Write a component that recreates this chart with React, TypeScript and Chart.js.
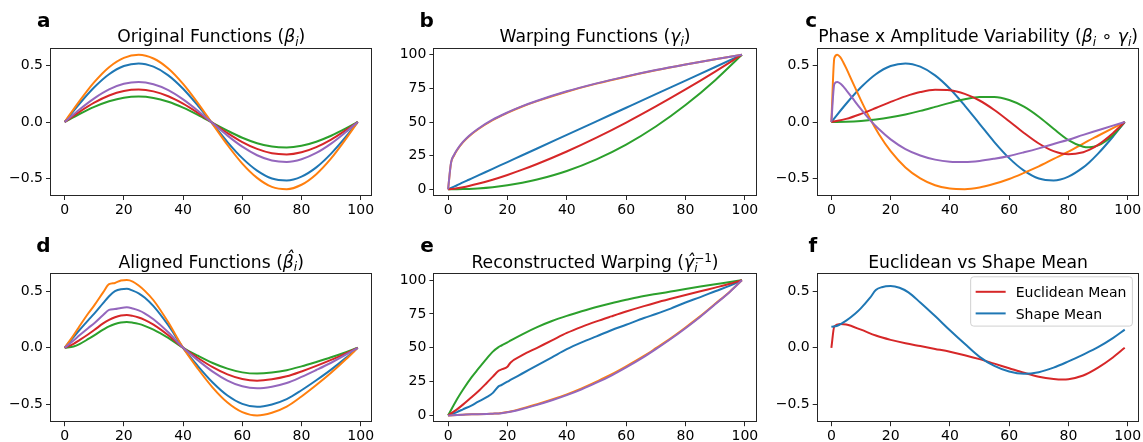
import { useEffect, useRef } from "react";
import { Chart, registerables } from "chart.js";

Chart.register(...registerables);

const FONT = '"DejaVu Sans", "Noto Sans", sans-serif';
const BLUE = "#1f77b4";
const ORANGE = "#ff7f0e";
const GREEN = "#2ca02c";
const RED = "#d62728";
const PURPLE = "#9467bd";

// ---------- ticks ----------
const X_TICKS = [0, 20, 40, 60, 80, 100];
const X_TICK_LABELS = ["0", "20", "40", "60", "80", "100"];
const Y_TICKS_FN = [-0.5, 0, 0.5];
const Y_TICK_LABELS_FN = ["\u22120.5", "0.0", "0.5"];
const Y_TICKS_WARP = [0, 25, 50, 75, 100];
const Y_TICK_LABELS_WARP = ["0", "25", "50", "75", "100"];

// ---------- panel a: original functions ----------
const X_A = [0, 5, 10, 15, 20, 25, 30, 35, 40, 45, 50, 55, 60, 65, 70, 75, 80, 85, 90, 95, 99];
const A_BLUE = [0, .162, .308, .424, .497, .520, .491, .414, .295, .146, -.016, -.178, -.321, -.432, -.502, -.519, -.485, -.403, -.281, -.131, 0];
const A_ORANGE = [0, .186, .354, .487, .570, .597, .564, .475, .338, .168, -.019, -.204, -.369, -.496, -.576, -.596, -.557, -.463, -.323, -.150, 0];
const A_GREEN = [0, .071, .134, .184, .216, .226, .214, .180, .128, .064, -.007, -.077, -.140, -.188, -.218, -.226, -.211, -.175, -.122, -.057, 0];
const A_RED = [0, .090, .171, .235, .275, .288, .272, .229, .163, .081, -.009, -.098, -.178, -.239, -.278, -.288, -.269, -.223, -.156, -.072, 0];
const A_PURPLE = [0, .111, .210, .289, .339, .355, .335, .283, .201, .100, -.011, -.121, -.219, -.295, -.342, -.355, -.331, -.275, -.192, -.089, 0];

// ---------- panel b: warping functions ----------
const X_B = [0, 1, 2, 3, 5, 7, 10, 15, 20, 25, 30, 40, 50, 60, 70, 80, 90, 99];
const B_BLUE = [0, 1.0, 2.0, 3.0, 5.1, 7.1, 10.1, 15.2, 20.2, 25.3, 30.3, 40.4, 50.5, 60.6, 70.7, 80.8, 90.9, 100];
const B_ORANGE = [0, 19.6, 25.1, 29.0, 34.8, 39.2, 44.4, 51.3, 56.8, 61.5, 65.5, 72.5, 78.5, 83.7, 88.4, 92.7, 96.6, 100];
const B_GREEN = [0, 0, 0.02, 0.05, 0.14, 0.29, 0.65, 1.57, 2.96, 4.84, 7.23, 13.63, 22.25, 33.23, 46.65, 62.59, 81.08, 100];
const B_RED = [0, 0.16, 0.42, 0.75, 1.53, 2.45, 4.04, 7.12, 10.66, 14.56, 18.8, 28.1, 38.4, 49.6, 61.6, 74.2, 87.5, 100];
const B_PURPLE = [0, 20.0, 25.5, 29.4, 35.2, 39.6, 44.8, 51.7, 57.1, 61.8, 65.8, 72.8, 78.7, 83.9, 88.6, 92.8, 96.7, 100];

// ---------- panel c: phase x amplitude ----------
const X_C_FAST = [0, 1, 2, 3, 4, 5, 7, 10, 13, 16, 20, 25, 30, 35, 40, 45, 50, 55, 60, 65, 70, 75, 80, 85, 90, 95, 99];
const C_ORANGE = [0, .568, .597, .575, .531, .478, .363, .192, .033, -.106, -.258, -.403, -.500, -.561, -.591, -.596, -.581, -.549, -.506, -.452, -.394, -.328, -.264, -.191, -.122, -.054, 0];
const C_PURPLE = [0, .338, .355, .342, .316, .284, .216, .114, .019, -.063, -.154, -.240, -.297, -.334, -.352, -.355, -.346, -.326, -.301, -.269, -.234, -.195, -.157, -.114, -.073, -.032, 0];
const X_C = [0, 5, 10, 15, 20, 25, 30, 35, 40, 45, 50, 55, 60, 65, 70, 75, 80, 85, 87, 90, 95, 99];
const C_BLUE = [0, .162, .308, .424, .497, .520, .491, .414, .295, .146, -.016, -.178, -.321, -.432, -.502, -.519, -.485, -.403, -.359, -.281, -.131, 0];
const C_RED = [0, .0276, .0721, .1242, .1782, .2275, .2655, .2854, .2815, .2501, .1909, .1069, .0070, -.0970, -.1909, -.2588, -.2865, -.2679, -.248, -.2030, -.0992, 0];
const C_GREEN = [0, .0020, .0091, .0222, .0416, .0674, .0987, .1340, .1700, .2014, .2216, .2224, .1956, .1364, .0469, -.0600, -.1600, -.2195, -.2249, -.2083, -.1169, 0];

// ---------- panel d: aligned functions ----------
const X_D = [0, 3, 5, 8, 10, 13, 15, 17, 19, 21, 23, 25, 27, 30, 35, 40, 45, 50, 55, 60, 65, 70, 75, 80, 85, 90, 95, 99];
const D_ORANGE = [0, .11, .19, .305, .375, .49, .562, .573, .594, .598, .585, .55, .505, .42, .225, 0, -.185, -.351, -.483, -.568, -.598, -.574, -.520, -.430, -.329, -.221, -.102, 0];
const D_BLUE = [0, .095, .157, .245, .302, .395, .455, .5, .518, .521, .505, .481, .444, .368, .199, 0, -.161, -.306, -.421, -.495, -.521, -.500, -.453, -.375, -.287, -.193, -.089, 0];
const D_PURPLE = [0, .065, .11, .175, .217, .29, .335, .342, .352, .357, .347, .33, .305, .252, .137, 0, -.110, -.210, -.289, -.340, -.357, -.343, -.311, -.257, -.196, -.132, -.061, 0];
const D_RED = [0, .035, .068, .12, .157, .215, .247, .27, .285, .29, .282, .268, .247, .205, .111, 0, -.090, -.171, -.235, -.276, -.29, -.278, -.252, -.209, -.160, -.107, -.049, 0];
const D_GREEN = [0, .012, .033, .078, .11, .16, .19, .21, .224, .228, .222, .211, .194, .161, .087, 0, -.070, -.134, -.184, -.217, -.228, -.219, -.198, -.164, -.125, -.084, -.039, 0];

// ---------- panel e: reconstructed warping ----------
const X_E = [0, 3, 5, 8, 10, 13, 15, 17, 18, 20, 21, 25, 30, 35, 40, 45, 50, 55, 60, 66, 70, 75, 80, 85, 90, 95, 99];
const E_GREEN = [0, 12, 19, 28.5, 34, 42, 47, 50.5, 51.7, 54, 55.3, 60, 65.3, 69.8, 73.6, 77, 80.2, 83, 85.5, 88.3, 89.7, 91.6, 93.5, 95.3, 97, 98.6, 100];
const E_RED = [0, 4.5, 8, 13.7, 17.5, 24, 28.5, 33, 34, 36, 39, 44.5, 50, 55.5, 61, 65.5, 69.5, 73.2, 76.8, 80.8, 83.3, 86.2, 89, 91.8, 94.5, 97.3, 100];
const E_BLUE = [0, 2.5, 4.5, 7.5, 10, 13.5, 16.5, 21.5, 22.5, 25, 26.2, 31, 37, 43, 49, 54, 58.5, 63, 67, 72, 75, 79, 83.5, 87.5, 91.8, 96, 100];
const E_PURPLE = [0, .3, .5, .8, .9, 1.1, 1.3, 1.5, 1.7, 2.3, 2.7, 4.8, 7.8, 11.2, 15, 19.3, 24.2, 29.5, 35.5, 43.3, 49, 56.5, 64.5, 73, 82.2, 91.5, 100];
const E_ORANGE = [0, .3, .5, .8, .9, 1.1, 1.3, 1.5, 1.8, 2.5, 2.9, 5.2, 8.3, 11.8, 15.6, 20, 25, 30.3, 36.3, 44, 49.7, 57, 65, 73.4, 82.5, 91.7, 100];

// ---------- panel f: means ----------
const X_F_EUC = [0, 1, 3, 5, 10, 15, 20, 25, 30, 35, 40, 45, 50, 55, 60, 65, 70, 75, 78, 80, 85, 90, 95, 99];
const F_EUC = [0, .19, .21, .205, .16, .108, .07, .04, .015, -.01, -.035, -.065, -.1, -.14, -.18, -.22, -.255, -.275, -.28, -.277, -.245, -.175, -.085, 0];
const X_F_SHAPE = [0, 2, 5, 8, 10, 13, 15, 17, 20, 23, 26, 30, 35, 40, 45, 50, 55, 60, 65, 70, 75, 80, 85, 90, 95, 99];
const F_SHAPE = [.185, .195, .24, .3, .35, .44, .51, .535, .545, .53, .49, .40, .28, .155, .035, -.08, -.16, -.21, -.23, -.215, -.175, -.12, -.06, .005, .085, .16];

// ---------- layout ----------
const COL_X = [0, 381, 762];
const COL_L = [50, 433.4, 816.7];
const COL_R = [372.4, 756.6, 1139.4];
const ROW_Y = [0, 221];
const ROW_T = [48, 273.4];
const ROW_B = [196, 422.2];
const CANVAS_W = 386;
const CANVAS_H = 221;
const YAXIS_W = 40;
const XAXIS_H = 18;
const TITLE_SIZE = 17.2;
const TICK_SIZE = 14;
const LABEL_SIZE = 20;

type Seg = { t: string; it?: boolean; sc?: number; dy?: number; hat?: number; stack?: boolean };
type Series = { label: string; color: string; xs: number[]; ys: number[] };
type Panel = { id: string; col: number; row: number; fn: boolean; title: Seg[]; series: Series[]; legend?: boolean };

const sub = (t: string): Seg => ({ t, it: true, sc: 0.7, dy: 0.2 });

const PANELS: Panel[] = [
  {
    id: "a", col: 0, row: 0, fn: true,
    title: [{ t: "Original Functions (" }, { t: "\u03B2", it: true }, sub("i"), { t: ")" }],
    series: [
      { label: "1", color: BLUE, xs: X_A, ys: A_BLUE },
      { label: "2", color: ORANGE, xs: X_A, ys: A_ORANGE },
      { label: "3", color: GREEN, xs: X_A, ys: A_GREEN },
      { label: "4", color: RED, xs: X_A, ys: A_RED },
      { label: "5", color: PURPLE, xs: X_A, ys: A_PURPLE },
    ],
  },
  {
    id: "b", col: 1, row: 0, fn: false,
    title: [{ t: "Warping Functions (" }, { t: "\u03B3", it: true }, sub("i"), { t: ")" }],
    series: [
      { label: "1", color: BLUE, xs: X_B, ys: B_BLUE },
      { label: "2", color: ORANGE, xs: X_B, ys: B_ORANGE },
      { label: "3", color: GREEN, xs: X_B, ys: B_GREEN },
      { label: "4", color: RED, xs: X_B, ys: B_RED },
      { label: "5", color: PURPLE, xs: X_B, ys: B_PURPLE },
    ],
  },
  {
    id: "c", col: 2, row: 0, fn: true,
    title: [
      { t: "Phase x Amplitude Variability (" }, { t: "\u03B2", it: true }, sub("i"),
      { t: " \u2218 " }, { t: "\u03B3", it: true }, sub("i"), { t: ")" },
    ],
    series: [
      { label: "1", color: BLUE, xs: X_C, ys: C_BLUE },
      { label: "2", color: ORANGE, xs: X_C_FAST, ys: C_ORANGE },
      { label: "3", color: GREEN, xs: X_C, ys: C_GREEN },
      { label: "4", color: RED, xs: X_C, ys: C_RED },
      { label: "5", color: PURPLE, xs: X_C_FAST, ys: C_PURPLE },
    ],
  },
  {
    id: "d", col: 0, row: 1, fn: true,
    title: [{ t: "Aligned Functions (" }, { t: "\u03B2", it: true, hat: 0.22 }, sub("i"), { t: ")" }],
    series: [
      { label: "1", color: BLUE, xs: X_D, ys: D_BLUE },
      { label: "2", color: ORANGE, xs: X_D, ys: D_ORANGE },
      { label: "3", color: GREEN, xs: X_D, ys: D_GREEN },
      { label: "4", color: RED, xs: X_D, ys: D_RED },
      { label: "5", color: PURPLE, xs: X_D, ys: D_PURPLE },
    ],
  },
  {
    id: "e", col: 1, row: 1, fn: false,
    title: [
      { t: "Reconstructed Warping (" }, { t: "\u03B3", it: true, hat: 0.02 },
      { t: "i", it: true, sc: 0.7, dy: 0.24 }, { t: "\u22121", sc: 0.7, dy: -0.32, stack: true }, { t: ")" },
    ],
    series: [
      { label: "1", color: BLUE, xs: X_E, ys: E_BLUE },
      { label: "2", color: ORANGE, xs: X_E, ys: E_ORANGE },
      { label: "3", color: GREEN, xs: X_E, ys: E_GREEN },
      { label: "4", color: RED, xs: X_E, ys: E_RED },
      { label: "5", color: PURPLE, xs: X_E, ys: E_PURPLE },
    ],
  },
  {
    id: "f", col: 2, row: 1, fn: true, legend: true,
    title: [{ t: "Euclidean vs Shape Mean" }],
    series: [
      { label: "Euclidean Mean", color: RED, xs: X_F_EUC, ys: F_EUC },
      { label: "Shape Mean", color: BLUE, xs: X_F_SHAPE, ys: F_SHAPE },
    ],
  },
];

function fontOf(size: number, italic?: boolean, bold?: boolean) {
  return `${italic ? "italic " : ""}${bold ? "bold " : ""}${size}px ${FONT}`;
}

function drawRich(ctx: CanvasRenderingContext2D, segs: Seg[], cx: number, base: number, size: number) {
  const items: { s: Seg; sz: number; w: number; start: number }[] = [];
  let cursor = 0;
  let lastStart = 0;
  for (const s of segs) {
    const sz = size * (s.sc ?? 1);
    ctx.font = fontOf(sz, s.it);
    const w = ctx.measureText(s.t).width;
    let start: number;
    if (s.stack) {
      start = lastStart;
      cursor = Math.max(cursor, start + w);
    } else {
      start = cursor;
      lastStart = start;
      cursor += w;
    }
    items.push({ s, sz, w, start });
  }
  const x0 = cx - cursor / 2;
  ctx.textBaseline = "alphabetic";
  for (const it of items) {
    ctx.font = fontOf(it.sz, it.s.it);
    const y = base + (it.s.dy ?? 0) * size;
    ctx.textAlign = "left";
    ctx.fillText(it.s.t, x0 + it.start, y);
    if (it.s.hat !== undefined) {
      ctx.textAlign = "center";
      ctx.fillText("\u02C6", x0 + it.start + it.w / 2 + 0.08 * size, y - it.s.hat * size);
    }
  }
}

function decor(p: Panel) {
  return {
    id: "decor" + p.id,
    afterDraw(chart: any) {
      const ctx: CanvasRenderingContext2D = chart.ctx;
      const a = chart.chartArea;
      ctx.save();
      // spines
      ctx.strokeStyle = "#262626";
      ctx.lineWidth = 1;
      const l = Math.round(a.left) + 0.5;
      const r = Math.round(a.right) - 0.5;
      const t = Math.round(a.top) + 0.5;
      const b = Math.round(a.bottom) - 0.5;
      ctx.strokeRect(l, t, r - l, b - t);
      // title
      ctx.fillStyle = "#000";
      drawRich(ctx, p.title, (a.left + a.right) / 2, a.top - 5.8, TITLE_SIZE);
      // panel letter
      ctx.font = fontOf(LABEL_SIZE, false, true);
      ctx.textAlign = "right";
      ctx.textBaseline = "alphabetic";
      ctx.fillText(p.id, a.left + 0.5, a.top - 21.5);
      // legend
      if (p.legend) {
        const ds = chart.data.datasets;
        ctx.font = fontOf(TICK_SIZE);
        const tw = Math.max(...ds.map((d: any) => ctx.measureText(d.label).width));
        const bw = 45 + tw + 6;
        const bh = 49.3;
        const bx = a.right - 7 - bw;
        const by = a.top + 3.4;
        ctx.beginPath();
        (ctx as any).roundRect(bx, by, bw, bh, 3);
        ctx.fillStyle = "rgba(255,255,255,0.8)";
        ctx.fill();
        ctx.strokeStyle = "#d0d0d0";
        ctx.lineWidth = 1;
        ctx.stroke();
        ds.forEach((d: any, i: number) => {
          const ly = by + 15 + i * 21.6;
          ctx.strokeStyle = d.borderColor;
          ctx.lineWidth = 2;
          ctx.beginPath();
          ctx.moveTo(bx + 5, ly);
          ctx.lineTo(bx + 35, ly);
          ctx.stroke();
          ctx.fillStyle = "#000";
          ctx.textAlign = "left";
          ctx.textBaseline = "alphabetic";
          ctx.fillText(d.label, bx + 45, ly + 5.6);
        });
      }
      ctx.restore();
    },
  };
}

export default function App() {
  const refs = useRef<(HTMLCanvasElement | null)[]>([]);

  useEffect(() => {
    const charts = PANELS.map((p, k) => {
      const cv = refs.current[k] as HTMLCanvasElement;
      const x0 = COL_X[p.col];
      const y0 = ROW_Y[p.row];
      const L = COL_L[p.col];
      const R = COL_R[p.col];
      const T = ROW_T[p.row];
      const B = ROW_B[p.row];
      const yTicks = p.fn ? Y_TICKS_FN : Y_TICKS_WARP;
      const yLabels = p.fn ? Y_TICK_LABELS_FN : Y_TICK_LABELS_WARP;
      const tickFont = { family: FONT, size: TICK_SIZE };
      const grid = { drawOnChartArea: false, drawTicks: true, tickLength: 4, tickColor: "#262626", tickWidth: 1 };
      return new Chart(cv, {
        type: "line",
        data: {
          datasets: p.series.map((s, i) => ({
            label: s.label,
            data: s.xs.map((x, j) => ({ x, y: s.ys[j] })),
            borderColor: s.color,
            backgroundColor: s.color,
            borderWidth: 2,
            pointRadius: 0,
            pointHoverRadius: 0,
            fill: false,
            cubicInterpolationMode: "monotone",
            order: p.series.length - i,
          })),
        },
        options: {
          animation: false,
          responsive: false,
          events: [],
          layout: {
            padding: {
              left: L - x0 - YAXIS_W,
              right: x0 + CANVAS_W - R,
              top: T - y0,
              bottom: y0 + CANVAS_H - B - XAXIS_H,
            },
          },
          plugins: { legend: { display: false }, tooltip: { enabled: false }, title: { display: false } },
          scales: {
            x: {
              type: "linear",
              min: -4.95,
              max: 103.95,
              afterBuildTicks: (s: any) => { s.ticks = X_TICKS.map((v) => ({ value: v })); },
              afterFit: (s: any) => { s.height = XAXIS_H; },
              ticks: {
                callback: (_v: any, i: number) => X_TICK_LABELS[i],
                color: "#000",
                font: tickFont,
                padding: 2,
                autoSkip: false,
                maxRotation: 0,
              },
              grid,
              border: { display: false },
            },
            y: {
              type: "linear",
              min: p.fn ? -0.657 : -5,
              max: p.fn ? 0.657 : 105,
              afterBuildTicks: (s: any) => { s.ticks = yTicks.map((v) => ({ value: v })); },
              afterFit: (s: any) => { s.width = YAXIS_W; },
              ticks: {
                callback: (_v: any, i: number) => yLabels[i],
                color: "#000",
                font: tickFont,
                padding: 3,
                autoSkip: false,
              },
              grid,
              border: { display: false },
            },
          },
        } as any,
        plugins: [decor(p)],
      });
    });
    return () => charts.forEach((c) => c.destroy());
  }, []);

  return (
    <div
      style={{
        position: "fixed",
        left: 0,
        top: 0,
        width: 1143,
        height: 442,
        overflow: "hidden",
        background: "#fff",
      }}
    >
      {PANELS.map((p, k) => (
        <canvas
          key={p.id}
          ref={(el) => { refs.current[k] = el; }}
          width={CANVAS_W}
          height={CANVAS_H}
          style={{ position: "absolute", left: COL_X[p.col], top: ROW_Y[p.row], width: CANVAS_W, height: CANVAS_H }}
        />
      ))}
    </div>
  );
}
